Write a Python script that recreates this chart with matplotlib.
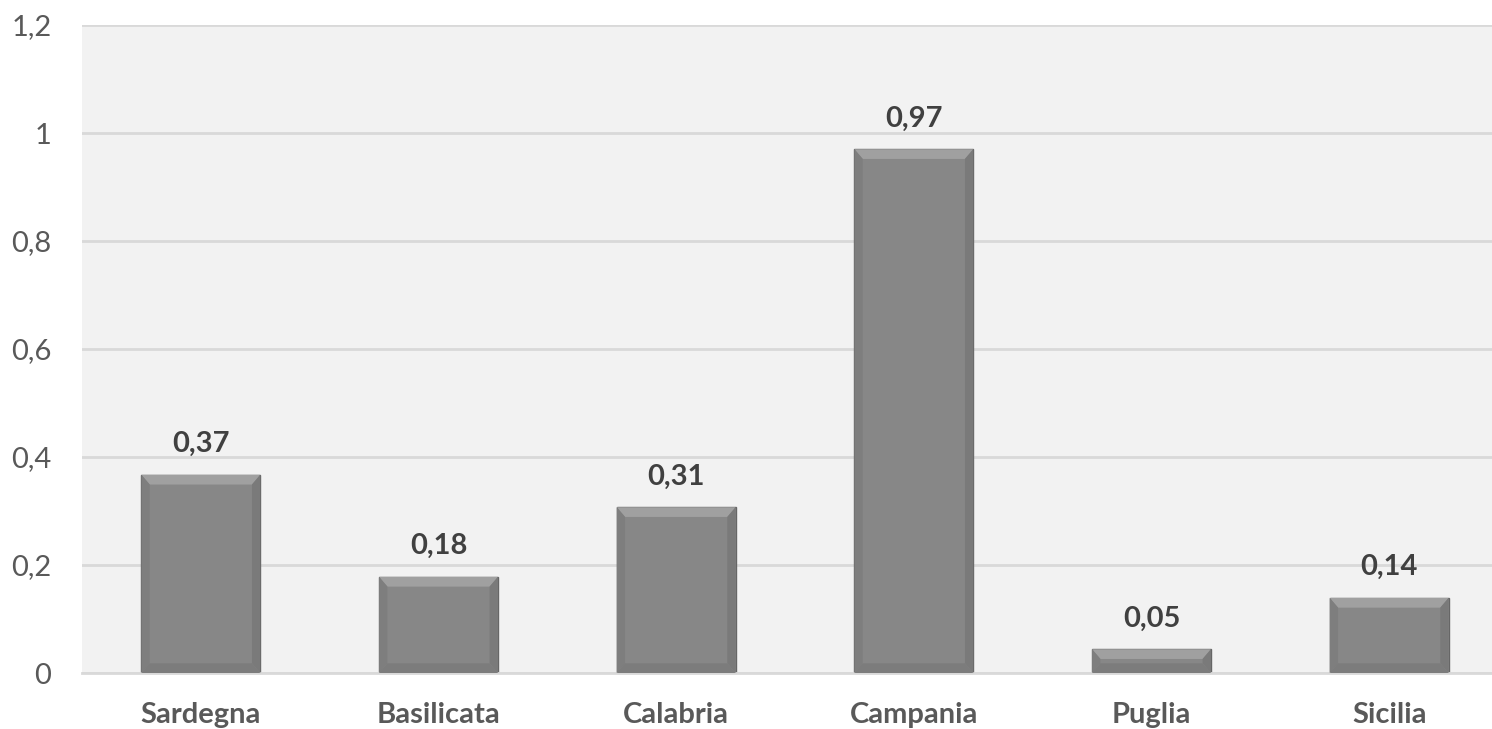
import matplotlib.pyplot as plt
from matplotlib.patches import Polygon

regions = ['Sardegna', 'Basilicata', 'Calabria', 'Campania', 'Puglia', 'Sicilia']
values = [0.367, 0.178, 0.307, 0.970, 0.044, 0.139]
value_labels = ['0,37', '0,18', '0,31', '0,97', '0,05', '0,14']
y_ticks = [0, 0.2, 0.4, 0.6, 0.8, 1.0, 1.2]
y_tick_labels = ['0', '0,2', '0,4', '0,6', '0,8', '1', '1,2']


def add_bevel(ax, x0, x1, top, bx, by):
    # light top band, slightly darker sides and bottom, like the office "bevel" effect
    h = min(by, top / 2)
    low = min(h, top - h)
    ax.add_patch(Polygon([(x0, top), (x1, top), (x1 - bx, top - h), (x0 + bx, top - h)],
                         closed=True, facecolor='#a0a0a0', edgecolor='none', zorder=3))
    ax.add_patch(Polygon([(x0, 0), (x0, top), (x0 + bx, top - h), (x0 + bx, low)],
                         closed=True, facecolor='#7e7e7e', edgecolor='none', zorder=3))
    ax.add_patch(Polygon([(x1, 0), (x1, top), (x1 - bx, top - h), (x1 - bx, low)],
                         closed=True, facecolor='#7a7a7a', edgecolor='none', zorder=3))
    ax.add_patch(Polygon([(x0, 0), (x1, 0), (x1 - bx, low), (x0 + bx, low)],
                         closed=True, facecolor='#7c7c7c', edgecolor='none', zorder=3))


def main():
    plt.rcParams['font.family'] = ['Lato', 'DejaVu Sans']
    fig = plt.figure(figsize=(14.92, 7.29), dpi=100)
    ax = fig.add_axes([82 / 1492, 1 - 673 / 729, 1426 / 1492, 648 / 729])
    ax.set_facecolor('#f2f2f2')

    x = list(range(len(regions)))
    width = 0.5
    ax.bar(x, values, width=width, color='#878787', edgecolor='#666666',
           linewidth=1.0, zorder=2)
    for xi, v in zip(x, values):
        add_bevel(ax, xi - width / 2, xi + width / 2, v, 0.035, 0.018)

    for xi, v, lab in zip(x, values, value_labels):
        ax.text(xi, v + 0.033, lab, ha='center', va='bottom', fontsize=21,
                fontweight='bold', color='#404040')

    ax.set_xlim(-0.5, len(regions) - 0.5)
    ax.set_ylim(0, 1.2)
    ax.set_yticks(y_ticks)
    ax.set_yticklabels(y_tick_labels)
    ax.set_xticks(x)
    ax.set_xticklabels(regions, fontweight='bold')
    ax.tick_params(axis='y', length=0, pad=22, labelsize=21, labelcolor='#595959')
    ax.tick_params(axis='x', length=0, pad=21, labelsize=21, labelcolor='#595959')
    ax.grid(axis='y', color='#d9d9d9', linewidth=2, zorder=0)
    ax.set_axisbelow(True)
    for side in ['top', 'right', 'left']:
        ax.spines[side].set_visible(False)
    ax.spines['bottom'].set_color('#d9d9d9')
    ax.spines['bottom'].set_linewidth(2)

    fig.savefig('out.png', dpi=100)


if __name__ == "__main__":
    main()
